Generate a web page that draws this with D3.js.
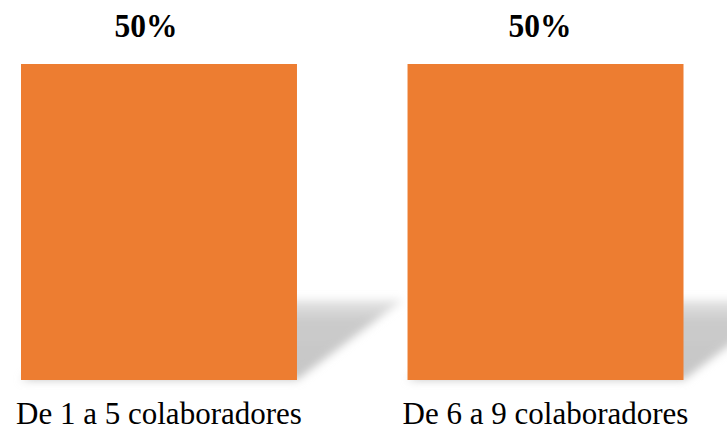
<!DOCTYPE html>
<html>
<head>
<meta charset="utf-8">
<script src="https://cdn.jsdelivr.net/npm/d3@7"></script>
<style>
  html, body { margin: 0; padding: 0; background: #fff; }
  svg { display: block; }
</style>
</head>
<body>
<script>
const categories = ["De 1 a 5 colaboradores", "De 6 a 9 colaboradores"];
const values = [50, 50];
const valueLabels = ["50%", "50%"];

const W = 727, H = 431;
const svg = d3.select("body").append("svg").attr("width", W).attr("height", H);
svg.append("rect").attr("width", W).attr("height", H).attr("fill", "#fff");

const x = d3.scaleBand().domain(categories).range([21, 683.5]).paddingInner(0.286).paddingOuter(0);
const y = d3.scaleLinear().domain([0, 50]).range([380, 64]);
const labelX = d3.scalePoint().domain(categories).range([146, 540]);

const defs = svg.append("defs");
const blur = defs.append("filter").attr("id", "blur").attr("x", "-20%").attr("y", "-30%").attr("width", "140%").attr("height", "160%");
blur.append("feGaussianBlur").attr("stdDeviation", 4);
const grad = defs.append("linearGradient").attr("id", "shadowGrad").attr("x1", 0).attr("y1", 0).attr("x2", 0).attr("y2", 1);
grad.append("stop").attr("offset", "0%").attr("stop-color", "#e6e6e6");
grad.append("stop").attr("offset", "25%").attr("stop-color", "#cbcbcb");
grad.append("stop").attr("offset", "100%").attr("stop-color", "#c6c6c6");

// Perspective shadows
const shadowH = 80, shadowDx = 106;
svg.append("g").selectAll("path").data(categories).join("path")
  .attr("d", (c, i) => {
    const x0 = x(c), x1 = x(c) + x.bandwidth(), yb = y(0), yt = y(0) - shadowH;
    return `M${x0},${yb}L${x1},${yb}L${x1 + shadowDx},${yt}L${x0 + shadowDx},${yt}Z`;
  })
  .attr("fill", "url(#shadowGrad)")
  .attr("filter", "url(#blur)");

// Bars
svg.append("g").selectAll("rect").data(categories).join("rect")
  .attr("x", c => x(c))
  .attr("width", x.bandwidth())
  .attr("y", (c, i) => y(values[i]))
  .attr("height", (c, i) => y(0) - y(values[i]))
  .attr("fill", "#ED7D31");

// Value labels
svg.append("g").selectAll("text").data(categories).join("text")
  .attr("transform", c => `translate(${labelX(c)},36.5) scale(1,1.1)`)
  .attr("text-anchor", "middle")
  .attr("font-family", "'Liberation Serif', 'Times New Roman', serif")
  .attr("font-weight", "bold")
  .attr("font-size", 31.5)
  .attr("fill", "#000")
  .text((c, i) => valueLabels[i]);

// Category labels
svg.append("g").selectAll("text").data(categories).join("text")
  .attr("x", c => x(c) + x.bandwidth() / 2)
  .attr("y", 424)
  .attr("text-anchor", "middle")
  .attr("font-family", "'Liberation Serif', 'Times New Roman', serif")
  .attr("font-size", 31)
  .attr("fill", "#000")
  .text(c => c);
</script>
</body>
</html>
